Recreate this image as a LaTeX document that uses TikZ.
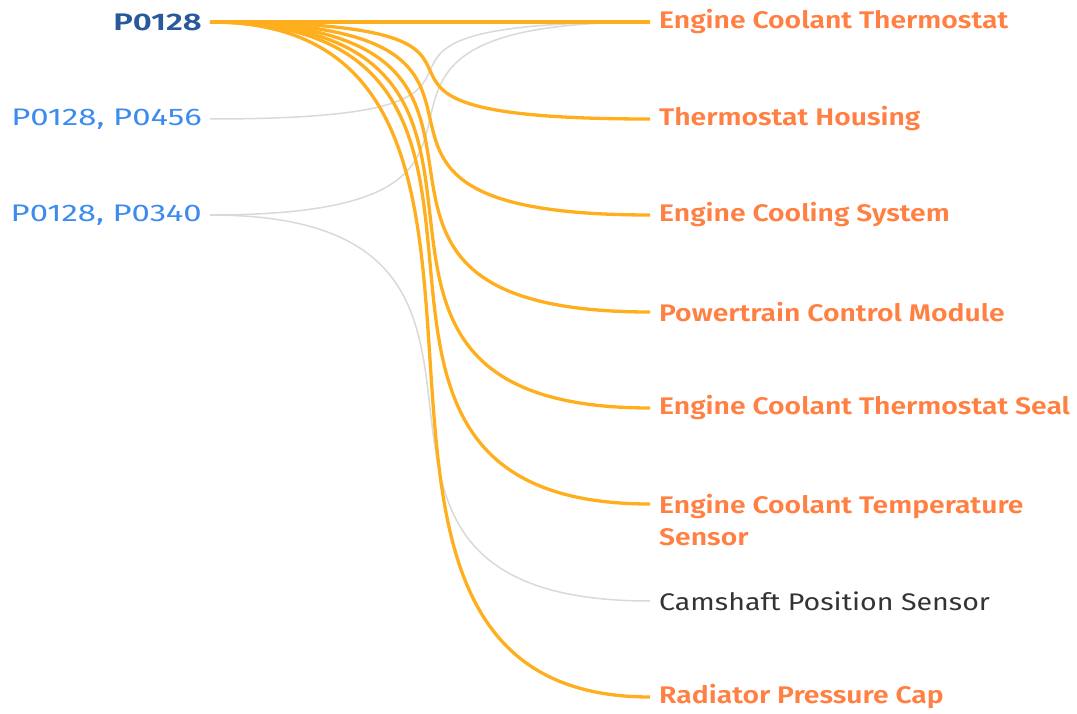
\documentclass[tikz,border=0pt]{standalone}
\usepackage{fontspec}
\setmainfont{Fira Sans}[FakeStretch=1.19]
\newfontfamily\semifont{Fira Sans SemiBold}[FakeStretch=1.18]
\newfontfamily\codefont{Fira Sans}[FakeStretch=1.37]
\newfontfamily\codesemifont{Fira Sans SemiBold}[FakeStretch=1.37]
\usetikzlibrary{calc}
\definecolor{linkorange}{HTML}{FFAF1E}
\definecolor{linkgray}{HTML}{D9D9D9}
\definecolor{partorange}{HTML}{FF8042}
\definecolor{codedark}{HTML}{28599B}
\definecolor{codelight}{HTML}{3D8BEE}
\definecolor{partgray}{HTML}{333333}
\tikzset{
    code/.style={anchor=east, inner xsep=8pt, font=\codefont\fontsize{24}{28}\selectfont, text=codelight},
    part/.style={anchor=west, inner xsep=9pt, align=left, font=\semifont\fontsize{24}{32}\selectfont, text=partorange},
    link/.style={to path={.. controls ($(\tikztostart)+(396,0)$) and ($(\tikztotarget)-(396,0)$) .. (\tikztotarget)}},
    hot/.style={link, draw=linkorange, line width=3.3pt},
    cold/.style={link, draw=linkgray, line width=1.5pt},
}
\begin{document}
\begin{tikzpicture}[x=1pt, y=-1pt]
    \useasboundingbox (0,0) rectangle (1077,714);
    % codes
    \node[code, text=codedark, font=\codesemifont\fontsize{24}{28}\selectfont] (p0128) at (210,22) {P0128};
    \node[code] (p0456) at (210,119) {P0128, P0456};
    \node[code] (p0340) at (210,215) {P0128, P0340};
    % parts
    \node[part] (thermostat) at (650,22) {Engine Coolant Thermostat};
    \node[part] (housing) at (650,119) {Thermostat Housing};
    \node[part] (cooling) at (650,215) {Engine Cooling System};
    \node[part] (pcm) at (650,312) {Powertrain Control Module};
    \node[part] (seal) at (650,408) {Engine Coolant Thermostat Seal};
    \coordinate (sensorend) at (650,504);
    \node[part] (sensor) at (650,520) {Engine Coolant Temperature\\Sensor};
    \node[part, font=\fontsize{24}{28}\selectfont, text=partgray] (camshaft) at (650,601) {Camshaft Position Sensor};
    \node[part] (cap) at (650,697) {Radiator Pressure Cap};
    % links
    \draw[cold] (p0456.east) to (thermostat.west);
    \draw[cold] (p0340.east) to (thermostat.west);
    \draw[cold] (p0340.east) to (camshaft.west);
    \draw[hot] (p0128.east) to (thermostat.west);
    \draw[hot] (p0128.east) to (housing.west);
    \draw[hot] (p0128.east) to (cooling.west);
    \draw[hot] (p0128.east) to (pcm.west);
    \draw[hot] (p0128.east) to (seal.west);
    \draw[hot] (p0128.east) to (sensorend);
    \draw[hot] (p0128.east) to (cap.west);
\end{tikzpicture}
\end{document}
